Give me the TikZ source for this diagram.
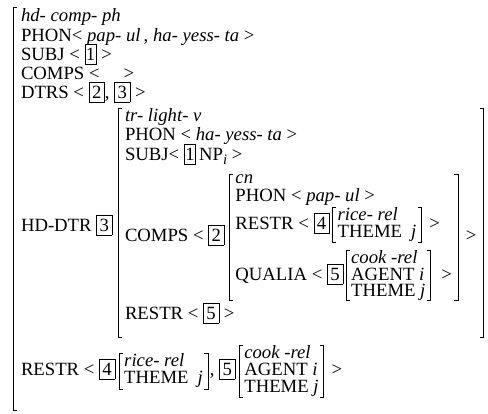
\documentclass[tikz,border=0pt]{standalone}
\usepackage{fontspec}
\setmainfont{Liberation Serif}
\usetikzlibrary{calc,fit}
\newcommand\fs{\fontsize{18.7}{20}\selectfont}
\setlength\fboxsep{2pt}
\setlength\fboxrule{0.6pt}
\newcommand\bx[2][0.8pt]{\fbox{\hspace{#1}\rule[-1.5pt]{0pt}{15pt}#2\hspace{#1}}}
\newcommand\subi{\raisebox{-4.5pt}{\fontsize{14.5}{14.5}\selectfont\textit{i}}}
\tikzset{
  t/.style={anchor=base west, inner sep=0pt, outer sep=0pt},
  grpbox/.style={inner xsep=5pt, inner ysep=0pt, outer sep=0pt},
  brk/.style={line width=0.6pt, line cap=butt},
}
\newcommand\lbrk[1]{\draw[brk] ([xshift=3.5pt]#1.north west) -- (#1.north west) -- (#1.south west) -- ([xshift=3.5pt]#1.south west);}
\newcommand\rbrk[1]{\draw[brk] ([xshift=-3.5pt]#1.north east) -- (#1.north east) -- (#1.south east) -- ([xshift=-3.5pt]#1.south east);}
\begin{document}
\begin{tikzpicture}[x=1pt,y=-1pt,font=\fs]
\useasboundingbox (0,0) rectangle (488,413);
% outer rows
\node[t] (o1) at (21,21) {\textit{hd- comp- ph}};
\node[t] (o2) at (21,41) {PHON< \textit{pap- ul}\,, \textit{ha- yess- ta} >};
\node[t] (o3) at (21,60) {SUBJ < \bx[-1.2pt]{1} >};
\node[t] (o4) at (21,79) {COMPS <\hspace{24pt}>};
\node[t] (o5) at (21,98) {DTRS < \bx{2}, \bx{3} >};
\node[t] (o6) at (21,231) {HD-DTR \bx{3}};
% tr-light-v
\node[t] (t1) at (125,121) {\textit{tr- light- v}};
\node[t] (t2) at (125,140) {PHON < \textit{ha- yess- ta} >};
\node[t] (t3) at (125,160) {SUBJ< \bx[-1.2pt]{1}\,NP\subi\ >};
\node[t] (t4) at (125,241) {COMPS < \bx{2}};
\node[t] (t5) at (125,319) {RESTR < \bx{5} >};
% cn
\coordinate (cnx) at ($(t4.base east)+(11,0)$);
\node[t] (c1) at ($(cnx)+(0,-58)$) {\textit{cn}};
\node[t] (c2) at ($(cnx)+(0,-40)$) {PHON < \textit{pap- ul} >};
\node[t] (c3) at ($(cnx)+(0,-12)$) {RESTR < \bx{4}};
\node[t] (c4) at ($(cnx)+(0,39)$) {QUALIA < \bx{5}};
% rice-rel in cn
\coordinate (rx) at ($(c3.base east)+(8,0)$);
\node[t] (ra) at ($(rx)+(0,-9)$) {\textit{rice- rel}};
\node[t] (rb) at ($(rx)+(0,8)$) {THEME\hspace{9pt}\textit{j}};
\coordinate (raT) at ($(rx)+(0,-22)$);
\coordinate (raB) at ($(rx)+(0,13)$);
\node[grpbox, fit=(ra)(rb)(raT)(raB)] (rG) {};
\lbrk{rG}\rbrk{rG}
\node[t] (c3e) at ($(rG.east |- c3.base)+(8,0)$) {>};
% cook-rel in cn
\coordinate (kx) at ($(c4.base east)+(8,0)$);
\node[t] (ka) at ($(kx)+(0,-17)$) {\textit{cook -rel}};
\node[t] (kb) at (kx) {AGENT \textit{i}};
\node[t] (kc) at ($(kx)+(0,16)$) {THEME \textit{j}};
\coordinate (kaT) at ($(kx)+(0,-30)$);
\coordinate (kaB) at ($(kx)+(0,19)$);
\node[grpbox, fit=(ka)(kb)(kc)(kaT)(kaB)] (kG) {};
\lbrk{kG}\rbrk{kG}
\node[t] (c4e) at ($(kG.east |- c4.base)+(11,0)$) {>};
% cn brackets
\coordinate (cnT) at ($(cnx)+(0,-64)$);
\coordinate (cnB) at ($(cnx)+(0,57)$);
\node[grpbox, inner xsep=6pt, fit=(c1)(c2)(c3)(c4)(rG)(kG)(c3e)(c4e)(cnT)(cnB)] (cnG) {};
\lbrk{cnG}\rbrk{cnG}
\node[t] (t4e) at ($(cnG.east |- t4.base)+(8,0)$) {>};
% tr brackets
\coordinate (trT) at (125,111);
\coordinate (trB) at (125,337);
\node[grpbox, inner xsep=7pt, fit=(t1)(t2)(t3)(t4)(t5)(cnG)(t4e)(trT)(trB)] (trG) {};
\lbrk{trG}\rbrk{trG}
% final row
\node[t] (o7) at (21,375) {RESTR < \bx{4}};
\coordinate (fx) at ($(o7.base east)+(9,0)$);
\node[t] (fa) at ($(fx)+(0,-9)$) {\textit{rice- rel}};
\node[t] (fb) at ($(fx)+(0,8)$) {THEME\hspace{9pt}\textit{j}};
\coordinate (fT) at ($(fx)+(0,-21)$);
\coordinate (fB) at ($(fx)+(0,14)$);
\node[grpbox, fit=(fa)(fb)(fT)(fB)] (fG) {};
\lbrk{fG}\rbrk{fG}
\node[t] (o7b) at ($(fG.east |- o7.base)+(2,0)$) {, \bx{5}};
\coordinate (gx) at ($(o7b.base east)+(9,0)$);
\node[t] (ga) at ($(gx)+(0,-17)$) {\textit{cook -rel}};
\node[t] (gb) at (gx) {AGENT \textit{i}};
\node[t] (gc) at ($(gx)+(0,17)$) {THEME \textit{j}};
\coordinate (gT) at ($(gx)+(0,-29)$);
\coordinate (gB) at ($(gx)+(0,22)$);
\node[grpbox, fit=(ga)(gb)(gc)(gT)(gB)] (gG) {};
\lbrk{gG}\rbrk{gG}
\node[t] (o7e) at ($(gG.east |- o7.base)+(8,0)$) {>};
% outer bracket (left only)
\coordinate (oT) at (13,7);
\coordinate (oB) at (13,410);
\draw[brk] ($(oT)+(3.5,0)$) -- (oT) -- (oB) -- ($(oB)+(3.5,0)$);
\end{tikzpicture}
\end{document}
